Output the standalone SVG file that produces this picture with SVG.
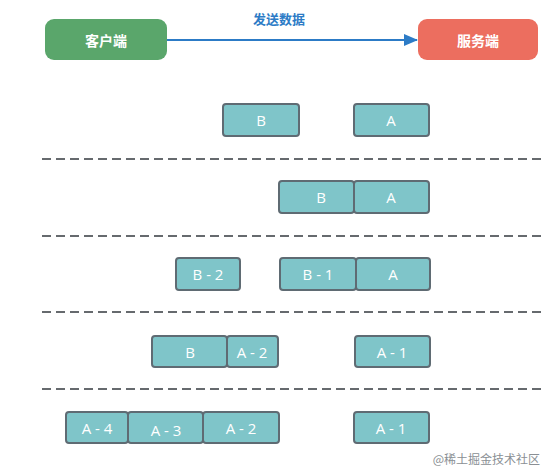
<svg xmlns="http://www.w3.org/2000/svg" width="554" height="472" viewBox="0 0 554 472">
<style>
.pkt{fill:#7fc5c9;stroke:#5f6b73;stroke-width:2}
.pt{font-family:"Open Sans","Liberation Sans",sans-serif;font-size:15px;fill:#ffffff;text-anchor:middle;dominant-baseline:central}
.ep{font-family:"Noto Sans CJK SC",sans-serif;font-size:14px;fill:#ffffff;text-anchor:middle;dominant-baseline:central;font-weight:bold}
.sep{stroke:#666a6e;stroke-width:2;stroke-dasharray:9 5;fill:none}
</style>
<defs>
<marker id="ah" markerWidth="14" markerHeight="12" refX="13" refY="6" orient="auto" markerUnits="userSpaceOnUse">
<path d="M0,0 L14,6 L0,12 Z" fill="#2c7bc6"/>
</marker>
</defs>
<rect width="554" height="472" fill="#ffffff"/>
<g id="client"><rect x="45" y="19" width="122" height="41" rx="9" fill="#5aa66b"/><text class="ep" x="106" y="40">客户端</text></g>
<g id="server"><rect x="418" y="19" width="120" height="41" rx="9" fill="#ec6e5f"/><text class="ep" x="478" y="40">服务端</text></g>
<g id="connectors">
<line x1="167" y1="40" x2="417" y2="40" stroke="#2c7bc6" stroke-width="2" marker-end="url(#ah)"/>
<text x="279" y="18" font-family="Noto Sans CJK SC,sans-serif" font-size="13" font-weight="bold" fill="#2c7bc6" text-anchor="middle" dominant-baseline="central">发送数据</text>
</g>
<g id="separators">
<line class="sep" x1="42" y1="159" x2="542" y2="159"/>
<line class="sep" x1="42" y1="236" x2="542" y2="236"/>
<line class="sep" x1="42" y1="312" x2="542" y2="312"/>
<line class="sep" x1="42" y1="389" x2="542" y2="389"/>
</g>
<g id="row1">
<g id="r1b"><rect class="pkt" x="223" y="104" width="76" height="32" rx="3"/><text class="pt" x="261" y="120">B</text></g>
<g id="r1a"><rect class="pkt" x="354" y="104" width="75" height="32" rx="3"/><text class="pt" x="391" y="120">A</text></g>
</g>
<g id="row2">
<g id="r2b"><rect class="pkt" x="279" y="181" width="75" height="32" rx="3"/><text class="pt" x="321" y="197">B</text></g>
<g id="r2a"><rect class="pkt" x="354" y="181" width="75" height="32" rx="3"/><text class="pt" x="391" y="197">A</text></g>
</g>
<g id="row3">
<g id="r3b2"><rect class="pkt" x="176" y="258" width="64" height="32" rx="3"/><text class="pt" x="208" y="274">B - 2</text></g>
<g id="r3b1"><rect class="pkt" x="280" y="258" width="76" height="32" rx="3"/><text class="pt" x="318" y="274">B - 1</text></g>
<g id="r3a"><rect class="pkt" x="356" y="258" width="74" height="32" rx="3"/><text class="pt" x="393" y="274">A</text></g>
</g>
<g id="row4">
<g id="r4b"><rect class="pkt" x="152" y="336" width="75" height="31" rx="3"/><text class="pt" x="190" y="352">B</text></g>
<g id="r4a2"><rect class="pkt" x="227" y="336" width="51" height="31" rx="3"/><text class="pt" x="252" y="352">A - 2</text></g>
<g id="r4a1"><rect class="pkt" x="355" y="336" width="75" height="31" rx="3"/><text class="pt" x="392" y="352">A - 1</text></g>
</g>
<g id="row5">
<g id="r5a4"><rect class="pkt" x="66" y="412" width="62" height="31" rx="3"/><text class="pt" x="97" y="428">A - 4</text></g>
<g id="r5a3"><rect class="pkt" x="128" y="412" width="75" height="31" rx="3"/><text class="pt" x="166" y="430">A - 3</text></g>
<g id="r5a2"><rect class="pkt" x="203" y="412" width="76" height="31" rx="3"/><text class="pt" x="241" y="428">A - 2</text></g>
<g id="r5a1"><rect class="pkt" x="354" y="412" width="75" height="31" rx="3"/><text class="pt" x="391" y="428">A - 1</text></g>
</g>
<text x="540" y="458" font-family="Noto Sans CJK SC,sans-serif" font-size="12" fill="#8a8f94" text-anchor="end" dominant-baseline="central">@稀土掘金技术社区</text>
</svg>
